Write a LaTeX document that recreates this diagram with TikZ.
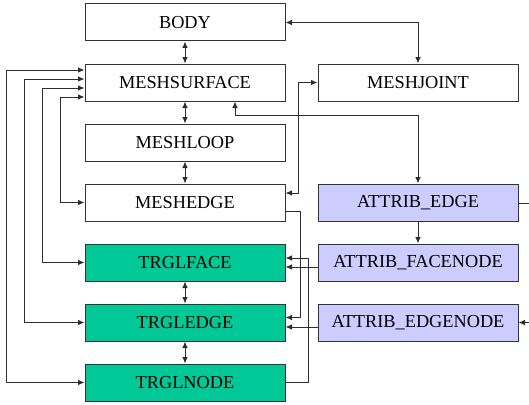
\documentclass[tikz,border=0pt]{standalone}
\usepackage{fontspec}
\setmainfont{Liberation Serif}
\usetikzlibrary{arrows.meta,calc}
\definecolor{tgreen}{RGB}{0,200,150}
\definecolor{lav}{RGB}{204,204,255}
\begin{document}
\begin{tikzpicture}[x=1pt,y=-1pt,
  box/.style={draw=black!80, line width=1pt, minimum width=200pt, minimum height=37pt, inner sep=0pt, font=\fontsize{18.3}{21}\selectfont, fill=white},
  gbox/.style={box, fill=tgreen},
  lbox/.style={box, fill=lav},
  con/.style={draw=black!82, line width=0.9pt},
  tipend/.style={con, -{Latex[length=6.5pt,width=5.5pt]}},
  tipboth/.style={con, {Latex[length=6.5pt,width=5.5pt]}-{Latex[length=6.5pt,width=5.5pt]}}]
\useasboundingbox (0,0) rectangle (529,404);
\node[box]  (body) at (185,22.5)  {BODY};
\node[box]  (ms)   at (185,82.5)  {MESHSURFACE};
\node[box]  (ml)   at (185,142.5) {MESHLOOP};
\node[box]  (me)   at (185,202.5) {MESHEDGE};
\node[gbox] (tf)   at (185,262.5) {TRGLFACE};
\node[gbox] (te)   at (185,322.5) {TRGLEDGE};
\node[gbox] (tn)   at (185,382.5) {TRGLNODE};
\node[box]  (mj)   at (418,82.5)  {MESHJOINT};
\node[lbox] (ae)   at (418,202.5) {ATTRIB\_EDGE};
\node[lbox] (afn)  at (418,262.5) {ATTRIB\_FACENODE};
\node[lbox] (aen)  at (418,322.5) {ATTRIB\_EDGENODE};
% vertical links
\draw[tipboth] (body) -- (ms);
\draw[tipboth] (ms) -- (ml);
\draw[tipboth] (ml) -- (me);
\draw[tipboth] (tf) -- (te);
\draw[tipboth] (te) -- (tn);
% left side loops
\draw[tipboth] ($(ms.west)+(0,-12.5)$) -- ++(-78,0) |- (tn.west);
\draw[tipboth] ($(ms.west)+(0,-3.5)$) -- ++(-60,0) |- (te.west);
\draw[tipboth] ($(ms.west)+(0,5.5)$) -- ++(-42,0) |- (tf.west);
\draw[tipboth] ($(ms.west)+(0,14.5)$) -- ++(-24,0) |- (me.west);
% right side
\draw[tipboth] (body.east) -| (mj.north);
\draw[tipboth] ($(ms.south)+(50,0)$) -- ++(0,14) -| (ae.north);
\draw[tipboth] (mj.west) -- ++(-19,0) |- ($(me.east)+(0,-9.5)$);
\draw[tipend] ($(me.east)+(0,9)$) -- ++(15,0) |- ($(te.east)+(0,-5)$);
\draw[tipend] (tn.east) -- ++(23,0) |- ($(tf.east)+(0,-4.5)$);
\draw[tipend] ($(afn.west)+(0,4.5)$) -- ($(tf.east)+(0,4.5)$);
\draw[tipend] ($(aen.west)+(0,4.5)$) -- ($(te.east)+(0,4.5)$);
\draw[tipend] (ae) -- (afn);
\draw[tipend] ($(ae.east)+(0,0.5)$) -- ++(22,0) |- (aen.east);
\end{tikzpicture}
\end{document}
